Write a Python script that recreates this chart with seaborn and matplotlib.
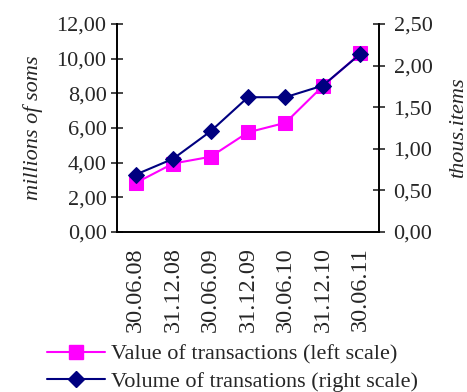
import pandas as pd
import matplotlib
matplotlib.use("Agg")
import matplotlib.pyplot as plt
import seaborn as sns
from matplotlib.ticker import FuncFormatter, MultipleLocator
from matplotlib.lines import Line2D

dates = ["30.06.08", "31.12.08", "30.06.09", "31.12.09", "30.06.10", "31.12.10", "30.06.11"]
value_mln = [2.83, 3.95, 4.34, 5.75, 6.30, 8.42, 10.30]
volume_thous = [0.69, 0.88, 1.21, 1.62, 1.62, 1.76, 2.14]

df = pd.DataFrame({"date": dates, "value": value_mln, "volume": volume_thous})
df["pos"] = range(len(df))

sns.set_style("white")
plt.rcParams["font.family"] = ["Liberation Serif", "DejaVu Serif"]
plt.rcParams["font.size"] = 16

fig = plt.figure(figsize=(4.67, 3.92), dpi=100)
ax = fig.add_axes([117 / 467, 1 - 232 / 392, (379 - 117) / 467, (232 - 24) / 392])
ax2 = ax.twinx()

sns.lineplot(data=df, x="pos", y="value", ax=ax, color="#ff00ff", marker="s",
             markersize=10, markeredgecolor="#ff00ff", linewidth=1.5)
sns.lineplot(data=df, x="pos", y="volume", ax=ax2, color="#000080", marker="D",
             markersize=8, markeredgecolor="#000080", linewidth=1.5)

comma = FuncFormatter(lambda v, p: f"{v:.2f}".replace(".", ","))
ax.set_ylim(0, 12)
ax.yaxis.set_major_locator(MultipleLocator(2))
ax.yaxis.set_major_formatter(comma)
ax2.set_ylim(0, 2.5)
ax2.yaxis.set_major_locator(MultipleLocator(0.5))
ax2.yaxis.set_major_formatter(comma)

ax.set_xlim(-0.5, len(dates) - 0.5)
ax.set_xticks([i - 0.5 for i in range(len(dates) + 1)])
ax.set_xticklabels([])
ax.set_xticks(range(len(dates)), minor=True)
ax.set_xticklabels(dates, minor=True, rotation=90, fontsize=17.5)
ax.tick_params(axis="x", which="minor", length=0, pad=11)
ax.tick_params(axis="x", which="major", direction="inout", length=9, width=1.2)

ax.set_xlabel("")
ax.set_ylabel("millions of soms", style="italic", fontsize=16, labelpad=10)
ax2.set_ylabel("thous.items", style="italic", fontsize=16, labelpad=12)
ax.tick_params(axis="y", direction="inout", length=9, width=1.2, pad=3, labelsize=16)
ax2.tick_params(axis="y", direction="inout", length=9, width=1.2, pad=6, labelsize=16)

for a in (ax, ax2):
    a.spines["top"].set_visible(False)
    for s in ("left", "right", "bottom"):
        a.spines[s].set_linewidth(1.2)
        a.spines[s].set_color("black")
    a.grid(False)

handles = [
    Line2D([], [], color="#ff00ff", marker="s", markersize=10, linewidth=1.5),
    Line2D([], [], color="#000080", marker="D", markersize=8, linewidth=1.5),
]
fig.legend(handles, ["Value of transactions (left scale)", "Volume of transations (right scale)"],
           loc="lower left", bbox_to_anchor=(27 / 467, -0.05), frameon=False,
           handlelength=2.6, handletextpad=0.3, labelspacing=0.3, fontsize=16)

fig.savefig("out.png", dpi=100)
